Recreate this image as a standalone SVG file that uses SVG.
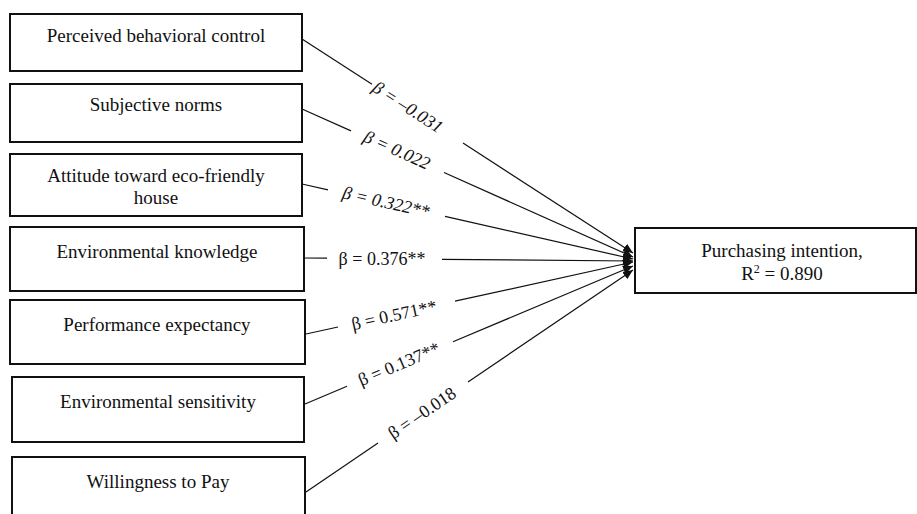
<svg xmlns="http://www.w3.org/2000/svg" width="917" height="514" viewBox="0 0 917 514">
<style>
.box{fill:#fff;stroke:#111;stroke-width:2}
.t{font-family:"Liberation Serif","Times New Roman",serif;font-size:19px;fill:#111;text-anchor:middle}
.lbl{font-family:"Liberation Serif","Times New Roman",serif;font-size:18px;fill:#111;text-anchor:middle;dominant-baseline:central}
.it{font-style:italic}
.c{stroke:#111;stroke-width:1.2;fill:none}
</style>
<defs>
<marker id="arr" markerUnits="userSpaceOnUse" markerWidth="11" markerHeight="10" refX="10" refY="5" orient="auto">
<path d="M0,0.5 L10,5 L0,9.5 z" fill="#111"/>
</marker>
</defs>
<rect width="917" height="514" fill="#fff"/>
<g id="connectors">
<line class="c" x1="302" y1="39" x2="372" y2="84.3"/>
<line class="c" x1="463" y1="143.1" x2="633" y2="253" marker-end="url(#arr)"/>
<line class="c" x1="302" y1="109" x2="351" y2="130.9"/>
<line class="c" x1="444" y1="172.5" x2="633" y2="257" marker-end="url(#arr)"/>
<line class="c" x1="302" y1="184" x2="328" y2="189.9"/>
<line class="c" x1="445" y1="216.4" x2="633" y2="259" marker-end="url(#arr)"/>
<line class="c" x1="304" y1="258" x2="327" y2="258.2"/>
<line class="c" x1="442" y1="259.3" x2="633" y2="261" marker-end="url(#arr)"/>
<line class="c" x1="306" y1="334" x2="338" y2="327"/>
<line class="c" x1="455" y1="301.2" x2="633" y2="262" marker-end="url(#arr)"/>
<line class="c" x1="305" y1="404" x2="347" y2="386.3"/>
<line class="c" x1="453" y1="341.7" x2="633" y2="266" marker-end="url(#arr)"/>
<line class="c" x1="306" y1="492" x2="378" y2="443.1"/>
<line class="c" x1="468" y1="382" x2="633" y2="270" marker-end="url(#arr)"/>
<text class="lbl it" transform="rotate(32.9 408 107)" x="408" y="107">β = –0.031</text>
<text class="lbl it" transform="rotate(24.1 397 150)" x="397" y="150">β = 0.022</text>
<text class="lbl it" transform="rotate(12.8 386 202)" x="386" y="202">β = 0.322**</text>
<text class="lbl" x="382" y="259">β = 0.376**</text>
<text class="lbl" transform="rotate(-12.4 394 315)" x="394" y="315">β = 0.571**</text>
<text class="lbl" transform="rotate(-22.8 399 364)" x="399" y="364">β = 0.137**</text>
<text class="lbl" transform="rotate(-34.2 422 413)" x="422" y="413">β = –0.018</text>
</g>
<g id="n1"><rect class="box" x="10" y="14" width="292" height="57"/><text class="t" x="156" y="42">Perceived behavioral control</text></g>
<g id="n2"><rect class="box" x="10" y="84" width="292" height="58"/><text class="t" x="156" y="111">Subjective norms</text></g>
<g id="n3"><rect class="box" x="10" y="154" width="292" height="62"/><text class="t" x="156" y="182">Attitude toward eco-friendly</text><text class="t" x="156" y="204">house</text></g>
<g id="n4"><rect class="box" x="10" y="227" width="294" height="64"/><text class="t" x="157" y="258">Environmental knowledge</text></g>
<g id="n5"><rect class="box" x="10" y="300" width="295" height="64"/><text class="t" x="157" y="331">Performance expectancy</text></g>
<g id="n6"><rect class="box" x="12" y="377" width="292" height="65"/><text class="t" x="158" y="408">Environmental sensitivity</text></g>
<g id="n7"><rect class="box" x="12" y="457" width="293" height="70"/><text class="t" x="158" y="488">Willingness to Pay</text></g>
<g id="target"><rect class="box" x="635" y="228" width="281" height="65"/><text class="t" x="782" y="257">Purchasing intention,</text><text class="t" x="782" y="280">R<tspan font-size="12" dy="-7">2</tspan><tspan dy="7"> = 0.890</tspan></text></g>
</svg>
